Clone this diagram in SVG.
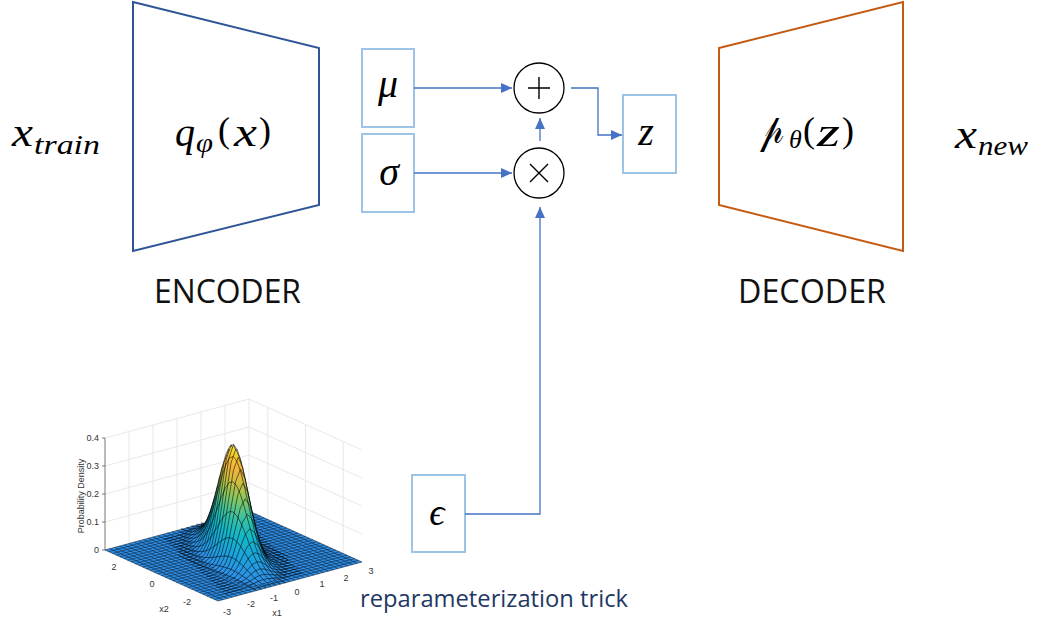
<svg xmlns="http://www.w3.org/2000/svg" xmlns:xlink="http://www.w3.org/1999/xlink" width="1038" height="631" viewBox="0 0 1038 631">
<style>
.enc{fill:none;stroke:#2f5597;stroke-width:2}
.dec{fill:none;stroke:#c55a11;stroke-width:2}
.box{fill:#fff;stroke:#9dc3e6;stroke-width:2}
.op{fill:#fff;stroke:#000;stroke-width:1.3}
.opg{fill:none;stroke:#000;stroke-width:1.4}
.conn{fill:none;stroke:#4472c4;stroke-width:1.3}
.m{font-family:"Liberation Serif","DejaVu Serif",serif;font-style:italic;fill:#000}
.u{font-family:"Liberation Serif","DejaVu Serif",serif;fill:#000}
.sp{font-family:"DejaVu Sans","DejaVu Serif","Noto Sans",sans-serif;fill:#000}
.lbl{font-family:"Open Sans","Noto Sans",sans-serif;font-size:32px;fill:#111}
.cap{font-family:"Open Sans","Noto Sans",sans-serif;font-size:23px;fill:#1f3864}
.wall{fill:none;stroke:#e2e2e2;stroke-width:.8;vector-effect:non-scaling-stroke}
.mesh{fill:none;stroke:#0a1c30;stroke-width:.55;vector-effect:non-scaling-stroke}
.cf{stroke:none}
.cs{fill:none;stroke:#000;stroke-width:.55;vector-effect:non-scaling-stroke}
.mf{fill:#000;stroke:none}
.ms{fill:none;stroke:#fff;stroke-width:.55;vector-effect:non-scaling-stroke}
.tk{font-family:"Liberation Sans",Arial,sans-serif;font-size:9px;fill:#333}
</style>
<defs>
<marker id="ah" viewBox="0 0 11 10" refX="11" refY="5" markerWidth="11" markerHeight="10" markerUnits="userSpaceOnUse" orient="auto"><path d="M0 0L11 5L0 10Z" fill="#4472c4"/></marker>
<linearGradient id="pg" gradientUnits="userSpaceOnUse" x1="0" y1="0" x2="0" y2="0.4">
<stop offset="0" stop-color="#2f8fe6"/>
<stop offset=".15" stop-color="#1ba3dc"/>
<stop offset=".3" stop-color="#13b7c8"/>
<stop offset=".45" stop-color="#3dc29e"/>
<stop offset=".6" stop-color="#8ec75a"/>
<stop offset=".72" stop-color="#d2bc3f"/>
<stop offset=".82" stop-color="#f2b33d"/>
<stop offset=".92" stop-color="#f6d02c"/>
<stop offset="1" stop-color="#f9e71f"/>
</linearGradient>
<linearGradient id="g0" xlink:href="#pg" y2="1.005"/>
<linearGradient id="g1" xlink:href="#pg" y2="1.025"/>
<linearGradient id="g2" xlink:href="#pg" y2="1.089"/>
<linearGradient id="g3" xlink:href="#pg" y2="1.203"/>
<linearGradient id="g4" xlink:href="#pg" y2="1.384"/>
<linearGradient id="g5" xlink:href="#pg" y2="1.657"/>
<linearGradient id="g6" xlink:href="#pg" y2="2.065"/>
<linearGradient id="g7" xlink:href="#pg" y2="2.677"/>
<linearGradient id="g8" xlink:href="#pg" y2="3.617"/>
<linearGradient id="g9" xlink:href="#pg" y2="5.076"/>
<linearGradient id="g10" xlink:href="#pg" y2="7.42"/>
<linearGradient id="g11" xlink:href="#pg" y2="11.3"/>
<linearGradient id="g12" xlink:href="#pg" y2="17.94"/>
<linearGradient id="g13" xlink:href="#pg" y2="29.6"/>
<g id="c2"><path class="cf" d="M-1.6 0L-1.4 .0022-1.2 .0111-1 .0439-.8 .1353-.6 .3247-.4 .6065-.2 .8825 0 1 .2 .8825 .4 .6065 .6 .3247 .8 .1353 1 .0439 1.2 .0111 1.4 .0022 1.6 0Z"/><path class="cs" d="M-1.6 0L-1.4 .0022-1.2 .0111-1 .0439-.8 .1353-.6 .3247-.4 .6065-.2 .8825 0 1 .2 .8825 .4 .6065 .6 .3247 .8 .1353 1 .0439 1.2 .0111 1.4 .0022 1.6 0"/></g>
<g id="m14"><path class="mf" d="M-2.8 .0022L-2.6 .0051-2.4 .0111-2.2 .0228-2 .0439-1.8 .0796-1.6 .1353-1.4 .2163-1.2 .3247-1 .4578-.8 .6065-.6 .7548-.4 .8825-.2 .969 0 1 .2 .969 .4 .8825 .6 .7548 .8 .6065 1 .4578 1.2 .3247 1.32 .256V0H-2.8Z"/><path class="ms" d="M-2.8 .0022L-2.6 .0051-2.4 .0111-2.2 .0228-2 .0439-1.8 .0796-1.6 .1353-1.4 .2163-1.2 .3247-1 .4578-.8 .6065-.6 .7548-.4 .8825-.2 .969 0 1 .2 .969 .4 .8825 .6 .7548 .8 .6065 1 .4578 1.2 .3247 1.32 .256"/></g>
<g id="m12"><path class="mf" d="M-2.8 .0022L-2.6 .0051-2.4 .0111-2.2 .0228-2 .0439-1.8 .0796-1.6 .1353-1.4 .2163-1.2 .3247-1 .4578-.8 .6065-.6 .7548-.4 .8825-.2 .969 0 1 .2 .969 .4 .8825 .6 .7548 .8 .6065 1 .4578 1.2 .3247 1.4 .2163 1.56 .149V0H-2.8Z"/><path class="ms" d="M-2.8 .0022L-2.6 .0051-2.4 .0111-2.2 .0228-2 .0439-1.8 .0796-1.6 .1353-1.4 .2163-1.2 .3247-1 .4578-.8 .6065-.6 .7548-.4 .8825-.2 .969 0 1 .2 .969 .4 .8825 .6 .7548 .8 .6065 1 .4578 1.2 .3247 1.4 .2163 1.56 .149"/></g>
<g id="m10"><path class="mf" d="M-2.8 .0022L-2.6 .0051-2.4 .0111-2.2 .0228-2 .0439-1.8 .0796-1.6 .1353-1.4 .2163-1.2 .3247-1 .4578-.8 .6065-.6 .7548-.4 .8825-.2 .969 0 1 .2 .969 .4 .8825 .6 .7548 .8 .6065 1 .4578 1.2 .3247 1.4 .2163 1.6 .1353 1.8 .0796V0H-2.8Z"/><path class="ms" d="M-2.8 .0022L-2.6 .0051-2.4 .0111-2.2 .0228-2 .0439-1.8 .0796-1.6 .1353-1.4 .2163-1.2 .3247-1 .4578-.8 .6065-.6 .7548-.4 .8825-.2 .969 0 1 .2 .969 .4 .8825 .6 .7548 .8 .6065 1 .4578 1.2 .3247 1.4 .2163 1.6 .1353 1.8 .0796"/></g>
<g id="m08"><path class="mf" d="M-2.8 .0022L-2.6 .0051-2.4 .0111-2.2 .0228-2 .0439-1.8 .0796-1.6 .1353-1.4 .2163-1.2 .3247-1 .4578-.8 .6065-.6 .7548-.4 .8825-.2 .969 0 1 .2 .969 .4 .8825 .6 .7548 .8 .6065 1 .4578 1.2 .3247 1.4 .2163 1.6 .1353 1.8 .0796 2 .0439 2.04 .0387V0H-2.8Z"/><path class="ms" d="M-2.8 .0022L-2.6 .0051-2.4 .0111-2.2 .0228-2 .0439-1.8 .0796-1.6 .1353-1.4 .2163-1.2 .3247-1 .4578-.8 .6065-.6 .7548-.4 .8825-.2 .969 0 1 .2 .969 .4 .8825 .6 .7548 .8 .6065 1 .4578 1.2 .3247 1.4 .2163 1.6 .1353 1.8 .0796 2 .0439 2.04 .0387"/></g>
<g id="m06"><path class="mf" d="M-2.8 .0022L-2.6 .0051-2.4 .0111-2.2 .0228-2 .0439-1.8 .0796-1.6 .1353-1.4 .2163-1.2 .3247-1 .4578-.8 .6065-.6 .7548-.4 .8825-.2 .969 0 1 .2 .969 .4 .8825 .6 .7548 .8 .6065 1 .4578 1.2 .3247 1.4 .2163 1.6 .1353 1.8 .0796 2 .0439 2.2 .0228 2.28 .0172V0H-2.8Z"/><path class="ms" d="M-2.8 .0022L-2.6 .0051-2.4 .0111-2.2 .0228-2 .0439-1.8 .0796-1.6 .1353-1.4 .2163-1.2 .3247-1 .4578-.8 .6065-.6 .7548-.4 .8825-.2 .969 0 1 .2 .969 .4 .8825 .6 .7548 .8 .6065 1 .4578 1.2 .3247 1.4 .2163 1.6 .1353 1.8 .0796 2 .0439 2.2 .0228 2.28 .0172"/></g>
<g id="m04"><path class="mf" d="M-2.8 .0022L-2.6 .0051-2.4 .0111-2.2 .0228-2 .0439-1.8 .0796-1.6 .1353-1.4 .2163-1.2 .3247-1 .4578-.8 .6065-.6 .7548-.4 .8825-.2 .969 0 1 .2 .969 .4 .8825 .6 .7548 .8 .6065 1 .4578 1.2 .3247 1.4 .2163 1.6 .1353 1.8 .0796 2 .0439 2.2 .0228 2.4 .0111 2.52 .007V0H-2.8Z"/><path class="ms" d="M-2.8 .0022L-2.6 .0051-2.4 .0111-2.2 .0228-2 .0439-1.8 .0796-1.6 .1353-1.4 .2163-1.2 .3247-1 .4578-.8 .6065-.6 .7548-.4 .8825-.2 .969 0 1 .2 .969 .4 .8825 .6 .7548 .8 .6065 1 .4578 1.2 .3247 1.4 .2163 1.6 .1353 1.8 .0796 2 .0439 2.2 .0228 2.4 .0111 2.52 .007"/></g>
<g id="m00"><path class="mf" d="M-2.8 .0022L-2.6 .0051-2.4 .0111-2.2 .0228-2 .0439-1.8 .0796-1.6 .1353-1.4 .2163-1.2 .3247-1 .4578-.8 .6065-.6 .7548-.4 .8825-.2 .969 0 1 .2 .969 .4 .8825 .6 .7548 .8 .6065 1 .4578 1.2 .3247 1.4 .2163 1.6 .1353 1.8 .0796 2 .0439 2.2 .0228 2.4 .0111 2.6 .0051 2.8 .0022V0H-2.8Z"/><path class="ms" d="M-2.8 .0022L-2.6 .0051-2.4 .0111-2.2 .0228-2 .0439-1.8 .0796-1.6 .1353-1.4 .2163-1.2 .3247-1 .4578-.8 .6065-.6 .7548-.4 .8825-.2 .969 0 1 .2 .969 .4 .8825 .6 .7548 .8 .6065 1 .4578 1.2 .3247 1.4 .2163 1.6 .1353 1.8 .0796 2 .0439 2.2 .0228 2.4 .0111 2.6 .0051 2.8 .0022"/></g>
<mask id="mk" maskUnits="userSpaceOnUse" x="90" y="390" width="300" height="225">
<use xlink:href="#m14" transform="matrix(-18.833 -8.5 0 -2.21 235.46 532.62)"/>
<use xlink:href="#m12" transform="matrix(-18.833 -8.5 0 -6.24 235.18 535.96)"/>
<use xlink:href="#m10" transform="matrix(-18.833 -8.5 0 -15.09 234.9 539.3)"/>
<use xlink:href="#m08" transform="matrix(-18.833 -8.5 0 -30.97 234.62 542.64)"/>
<use xlink:href="#m06" transform="matrix(-18.833 -8.5 0 -54.24 234.34 545.98)"/>
<use xlink:href="#m04" transform="matrix(-18.833 -8.5 0 -80.92 234.06 549.32)"/>
<use xlink:href="#m00" transform="matrix(-18.833 -8.5 0 -102.87 233.78 552.66)"/>
<use xlink:href="#m00" transform="matrix(-18.833 -8.5 0 -111.44 233.5 556)"/>
<use xlink:href="#m00" transform="matrix(18.833 8.5 0 -102.87 233.22 559.34)"/>
<use xlink:href="#m04" transform="matrix(18.833 8.5 0 -80.92 232.94 562.68)"/>
<use xlink:href="#m06" transform="matrix(18.833 8.5 0 -54.24 232.66 566.02)"/>
<use xlink:href="#m08" transform="matrix(18.833 8.5 0 -30.97 232.38 569.36)"/>
<use xlink:href="#m10" transform="matrix(18.833 8.5 0 -15.09 232.1 572.7)"/>
<use xlink:href="#m12" transform="matrix(18.833 8.5 0 -6.24 231.82 576.04)"/>
<use xlink:href="#m14" transform="matrix(18.833 8.5 0 -2.21 231.54 579.38)"/>
</mask>
</defs>
<rect width="1038" height="631" fill="#fff"/>

<g id="plot">
<g id="walls">
<path class="wall" transform="matrix(24 -6.5 0 -280 177 530.5)" d="M-2 0V.4M-1 0V.4M0 0V.4M1 0V.4M2 0V.4M3 0V.4M-3 .1H3M-3 .2H3M-3 .3H3M-3 .4H3"/>
<path class="wall" transform="matrix(-18.833 -8.5 0 -280 305.5 536.5)" d="M2 0V.4M0 0V.4M-2 0V.4M3 .1H-3M3 .2H-3M3 .3H-3M3 .4H-3"/>
</g>
<g id="zaxis">
<path d="M105 550V438M102 550H105M102 522H105M102 494H105M102 466H105M102 438H105" fill="none" stroke="#555" stroke-width=".8"/>
<text class="tk" x="99" y="553" text-anchor="end">0</text>
<text class="tk" x="99" y="525" text-anchor="end">0.1</text>
<text class="tk" x="99" y="497" text-anchor="end">0.2</text>
<text class="tk" x="99" y="469" text-anchor="end">0.3</text>
<text class="tk" x="99" y="441" text-anchor="end">0.4</text>
<text class="tk" font-size="8.2" text-anchor="middle" transform="translate(84 496) rotate(-90)">Probability Density</text>
</g>
<g id="surface">
<g transform="matrix(24 -6.5 -18.833 -8.5 233.5 556)">
<rect x="-3" y="-3" width="6" height="6" fill="#2f8fe6"/>
<path class="mesh" d="M-3-3H3M-3-2.8H3M-3-2.6H3M-3-2.4H3M-3-2.2H3M-3-2H3M-3-1.8H3M-3-1.6H3M-3-1.4H3M-3-1.2H3M-3-1H3M-3-.8H3M-3-.6H3M-3-.4H3M-3-.2H3M-3 0H3M-3 .2H3M-3 .4H3M-3 .6H3M-3 .8H3M-3 1H3M-3 1.2H3M-3 1.4H3M-3 1.6H3M-3 1.8H3M-3 2H3M-3 2.2H3M-3 2.4H3M-3 2.6H3M-3 2.8H3M-3 3H3M-3-3V3M-2.8-3V3M-2.6-3V3M-2.4-3V3M-2.2-3V3M-2-3V3M-1.8-3V3M-1.6-3V3M-1.4-3V3M-1.2-3V3M-1-3V3M-.8-3V3M-.6-3V3M-.4-3V3M-.2-3V3M0-3V3M.2-3V3M.4-3V3M.6-3V3M.8-3V3M1-3V3M1.2-3V3M1.4-3V3M1.6-3V3M1.8-3V3M2-3V3M2.2-3V3M2.4-3V3M2.6-3V3M2.8-3V3M3-3V3"/>
</g>
<use xlink:href="#c2" fill="url(#g13)" transform="matrix(24 -6.5 0 -3.78 203.25 528.83)"/>
<use xlink:href="#c2" fill="url(#g12)" transform="matrix(24 -6.5 0 -6.24 205.58 530.92)"/>
<use xlink:href="#c2" fill="url(#g11)" transform="matrix(24 -6.5 0 -9.91 207.91 533.01)"/>
<use xlink:href="#c2" fill="url(#g10)" transform="matrix(24 -6.5 0 -15.09 210.23 535.1)"/>
<use xlink:href="#c2" fill="url(#g9)" transform="matrix(24 -6.5 0 -22.06 212.56 537.19)"/>
<use xlink:href="#c2" fill="url(#g8)" transform="matrix(24 -6.5 0 -30.97 214.89 539.28)"/>
<use xlink:href="#c2" fill="url(#g7)" transform="matrix(24 -6.5 0 -41.83 217.21 541.37)"/>
<use xlink:href="#c2" fill="url(#g6)" transform="matrix(24 -6.5 0 -54.24 219.54 543.46)"/>
<use xlink:href="#c2" fill="url(#g5)" transform="matrix(24 -6.5 0 -67.59 221.87 545.55)"/>
<use xlink:href="#c2" fill="url(#g4)" transform="matrix(24 -6.5 0 -80.92 224.19 547.64)"/>
<use xlink:href="#c2" fill="url(#g3)" transform="matrix(24 -6.5 0 -93.07 226.52 549.73)"/>
<use xlink:href="#c2" fill="url(#g2)" transform="matrix(24 -6.5 0 -102.87 228.85 551.82)"/>
<use xlink:href="#c2" fill="url(#g1)" transform="matrix(24 -6.5 0 -109.23 231.17 553.91)"/>
<use xlink:href="#c2" fill="url(#g0)" transform="matrix(24 -6.5 0 -111.44 233.5 556)"/>
<use xlink:href="#c2" fill="url(#g1)" transform="matrix(24 -6.5 0 -109.23 235.83 558.09)"/>
<use xlink:href="#c2" fill="url(#g2)" transform="matrix(24 -6.5 0 -102.87 238.15 560.18)"/>
<use xlink:href="#c2" fill="url(#g3)" transform="matrix(24 -6.5 0 -93.07 240.48 562.27)"/>
<use xlink:href="#c2" fill="url(#g4)" transform="matrix(24 -6.5 0 -80.92 242.81 564.36)"/>
<use xlink:href="#c2" fill="url(#g5)" transform="matrix(24 -6.5 0 -67.59 245.13 566.45)"/>
<use xlink:href="#c2" fill="url(#g6)" transform="matrix(24 -6.5 0 -54.24 247.46 568.54)"/>
<use xlink:href="#c2" fill="url(#g7)" transform="matrix(24 -6.5 0 -41.83 249.79 570.63)"/>
<use xlink:href="#c2" fill="url(#g8)" transform="matrix(24 -6.5 0 -30.97 252.11 572.72)"/>
<use xlink:href="#c2" fill="url(#g9)" transform="matrix(24 -6.5 0 -22.06 254.44 574.81)"/>
<use xlink:href="#c2" fill="url(#g10)" transform="matrix(24 -6.5 0 -15.09 256.77 576.9)"/>
<use xlink:href="#c2" fill="url(#g11)" transform="matrix(24 -6.5 0 -9.91 259.09 578.99)"/>
<use xlink:href="#c2" fill="url(#g12)" transform="matrix(24 -6.5 0 -6.24 261.42 581.08)"/>
<use xlink:href="#c2" fill="url(#g13)" transform="matrix(24 -6.5 0 -3.78 263.75 583.17)"/>
<rect x="90" y="390" width="300" height="225" fill="#000" mask="url(#mk)"/>
</g>
<g id="axislabels">
<text class="tk" text-anchor="middle" x="114" y="570">2</text>
<text class="tk" text-anchor="middle" x="152" y="587">0</text>
<text class="tk" text-anchor="middle" x="187" y="605">-2</text>
<text class="tk" text-anchor="middle" x="164" y="612">x2</text>
<text class="tk" text-anchor="middle" x="227" y="615">-3</text>
<text class="tk" text-anchor="middle" x="251" y="607">-2</text>
<text class="tk" text-anchor="middle" x="274" y="601">-1</text>
<text class="tk" text-anchor="middle" x="297" y="595">0</text>
<text class="tk" text-anchor="middle" x="322" y="587">1</text>
<text class="tk" text-anchor="middle" x="346" y="581">2</text>
<text class="tk" text-anchor="middle" x="371" y="574">3</text>
<text class="tk" text-anchor="middle" x="277" y="616">x1</text>
</g>
</g>

<g id="x-train">
<text class="m" x="12" y="146" font-size="40" textLength="21" lengthAdjust="spacingAndGlyphs">x</text>
<text class="m" x="34" y="154" font-size="27" textLength="66" lengthAdjust="spacingAndGlyphs">train</text>
</g>
<g id="encoder">
<polygon class="enc" points="133,2 319,48 319,205 133,251"/>
<text class="m" x="175" y="146" font-size="40" textLength="20" lengthAdjust="spacingAndGlyphs">q</text>
<text class="m" x="196" y="152" font-size="27" textLength="17" lengthAdjust="spacingAndGlyphs">φ</text>
<text class="u" x="218" y="142" font-size="36">(</text>
<text class="m" x="234" y="146" font-size="40" textLength="23" lengthAdjust="spacingAndGlyphs">x</text>
<text class="u" x="259" y="142" font-size="36">)</text>
</g>
<g id="mu"><rect class="box" x="362" y="49" width="52" height="78"/><text class="m" x="388" y="97" font-size="40" text-anchor="middle">μ</text></g>
<g id="sigma"><rect class="box" x="362" y="134" width="52" height="78"/><text class="m" x="389" y="185" font-size="40" text-anchor="middle">σ</text></g>
<g id="plus"><circle class="op" cx="539" cy="88" r="25"/><path class="opg" d="M528 88H550M539 77V99"/></g>
<g id="times"><circle class="op" cx="539" cy="173" r="25"/><path class="opg" d="M530 164L548 182M548 164L530 182"/></g>
<g id="z"><rect class="box" x="623" y="95" width="53" height="78"/><text class="m" x="646" y="145" font-size="40" text-anchor="middle">z</text></g>
<g id="epsilon"><rect class="box" x="412" y="475" width="53" height="77"/><text class="m" x="437" y="525" font-size="38" text-anchor="middle">ϵ</text></g>
<g id="decoder">
<polygon class="dec" points="719,48 903,2 903,251 719,205"/>
<text class="sp" x="760" y="143" font-size="42" textLength="24" lengthAdjust="spacingAndGlyphs">&#x1D4C5;</text>
<text class="m" x="789" y="148" font-size="26">θ</text>
<text class="u" x="803" y="142" font-size="36">(</text>
<text class="m" x="817" y="146" font-size="40" textLength="23" lengthAdjust="spacingAndGlyphs">z</text>
<text class="u" x="842" y="142" font-size="36">)</text>
</g>
<g id="x-new">
<text class="m" x="955" y="148" font-size="40" textLength="22" lengthAdjust="spacingAndGlyphs">x</text>
<text class="m" x="978" y="155" font-size="27" textLength="50" lengthAdjust="spacingAndGlyphs">new</text>
</g>
<g id="connectors">
<path class="conn" d="M414 88H512" marker-end="url(#ah)"/>
<path class="conn" d="M414 173H512" marker-end="url(#ah)"/>
<path class="conn" d="M571 88H598V135H622" marker-end="url(#ah)"/>
<path class="conn" d="M540 141V118" marker-end="url(#ah)"/>
<path class="conn" d="M465 514H540V207" marker-end="url(#ah)"/>
</g>
<g id="labels">
<text class="lbl" x="154" y="303" textLength="147" lengthAdjust="spacingAndGlyphs">ENCODER</text>
<text class="lbl" x="738" y="303" textLength="148" lengthAdjust="spacingAndGlyphs">DECODER</text>
<text class="cap" x="360" y="607" textLength="268" lengthAdjust="spacingAndGlyphs">reparameterization trick</text>
</g>
</svg>
